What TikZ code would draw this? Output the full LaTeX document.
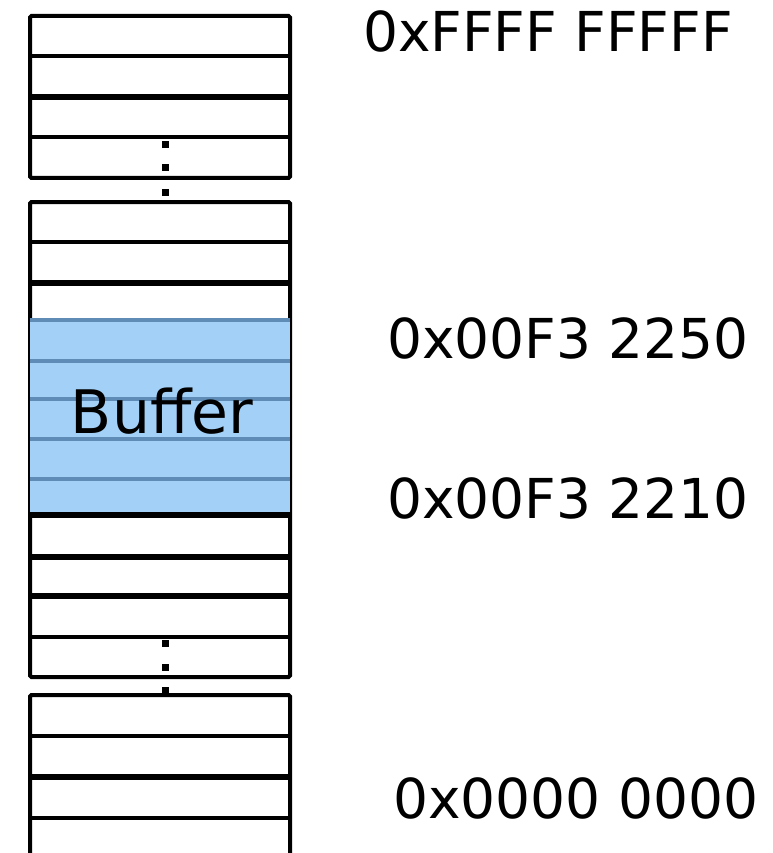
\documentclass[tikz,border=0pt]{standalone}
\usepackage{fontspec}
\setmainfont{DejaVu Sans}
\definecolor{buffill}{RGB}{162,208,247}
\definecolor{bufline}{RGB}{95,140,182}
\tikzset{
  thinln/.style={line width=4pt,black},
  thickln/.style={line width=6.5pt,black},
  blueln/.style={line width=4.5pt,bufline},
  addr/.style={anchor=base west,inner sep=0pt,font=\fontsize{55}{66}\selectfont},
  dotsq/.style={fill=black,minimum size=7pt,inner sep=0pt,draw=none}
}
\begin{document}
\begin{tikzpicture}[x=1pt,y=-1pt]
\useasboundingbox (0,0) rectangle (772,853);
\begin{scope}
\clip (0,0) rectangle (772,853);
% block 1
\draw[thinln,rounded corners=1.5pt] (30,16) rectangle (290,178);
\draw[thinln] (30,56) -- (290,56);
\draw[thickln] (30,97) -- (290,97);
\draw[thinln] (30,137) -- (290,137);
% block 2
\draw[thinln,rounded corners=1.5pt] (30,202) rectangle (290,677);
\draw[thinln] (30,242) -- (290,242);
\draw[thickln] (30,283) -- (290,283);
\fill[buffill] (30,318) rectangle (290,513);
\foreach \yy in {320,361,399,439,479} \draw[blueln] (30,\yy) -- (290,\yy);
\draw[thickln] (30,515) -- (290,515);
\draw[thickln] (30,557) -- (290,557);
\draw[thickln] (30,596) -- (290,596);
\draw[thinln] (30,637) -- (290,637);
% block 3
\draw[thinln,rounded corners=1.5pt] (30,900) -- (30,695) -- (290,695) -- (290,900);
\draw[thinln] (30,736) -- (290,736);
\draw[thickln] (30,777) -- (290,777);
\draw[thinln] (30,818) -- (290,818);
\end{scope}
% dots
\node[dotsq] (d1) at (165,145) {};
\node[dotsq] (d2) at (165,168) {};
\node[dotsq] (d3) at (165,192) {};
\node[dotsq] (d4) at (165,643) {};
\node[dotsq] (d5) at (165,667) {};
\node[dotsq] (d6) at (165,690) {};
% labels
\node[anchor=base,inner sep=0pt,font=\fontsize{60}{72}\selectfont] (buf) at (162,433) {Buffer};
\node[addr] (a1) at (363,52) {0xFFFF FFFFF};
\node[addr] (a2) at (387,358) {0x00F3 2250};
\node[addr] (a3) at (387,518) {0x00F3 2210};
\node[addr] (a4) at (393,818) {0x0000 0000};
\end{tikzpicture}
\end{document}
